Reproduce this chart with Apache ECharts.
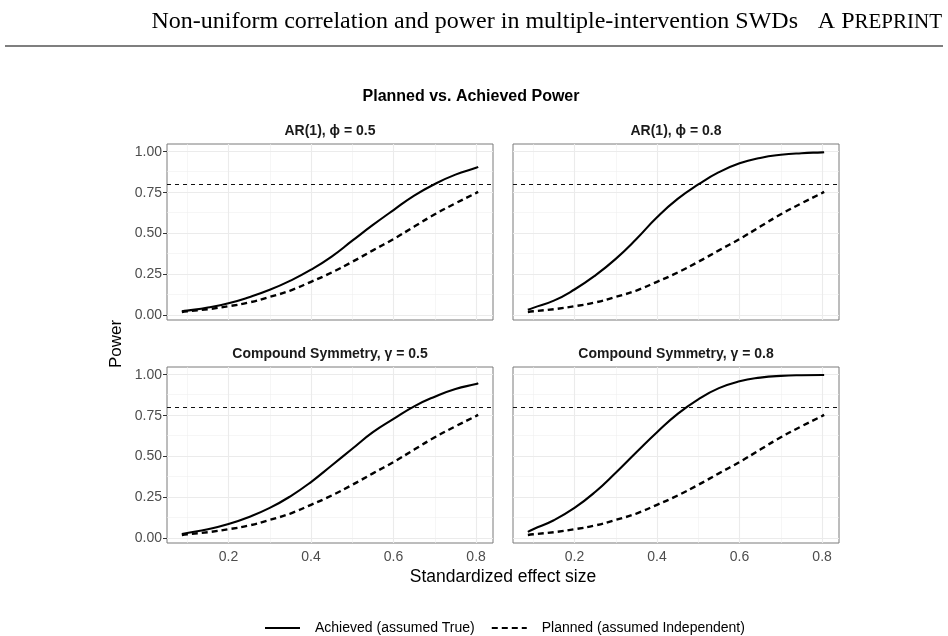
<!DOCTYPE html>
<html><head><meta charset="utf-8">
<script src="https://cdn.jsdelivr.net/npm/echarts@6/dist/echarts.min.js"></script>
<style>html,body{margin:0;padding:0;background:#fff}#c{width:948px;height:636px}</style>
</head><body><div id="c"></div><script>
// ---- data ----
const effectSize = [0.087,0.1,0.15,0.2,0.25,0.3,0.35,0.4,0.45,0.5,0.55,0.6,0.65,0.7,0.75,0.8,0.805];
const planned     = [0.022,0.026,0.039,0.057,0.080,0.114,0.153,0.206,0.263,0.328,0.398,0.467,0.543,0.618,0.685,0.748,0.755];
const achievedAR05 = [0.026,0.030,0.049,0.075,0.112,0.157,0.213,0.280,0.360,0.457,0.553,0.644,0.732,0.803,0.860,0.902,0.908];
const achievedAR08 = [0.035,0.047,0.091,0.159,0.244,0.346,0.467,0.600,0.712,0.800,0.875,0.929,0.962,0.981,0.991,0.996,0.997];
const achievedCS05 = [0.028,0.034,0.057,0.089,0.132,0.187,0.258,0.345,0.446,0.548,0.649,0.730,0.807,0.866,0.913,0.943,0.949];
const achievedCS08 = [0.041,0.057,0.112,0.187,0.284,0.402,0.527,0.649,0.761,0.850,0.918,0.960,0.982,0.993,0.997,0.998,0.998];
const panelTitles = ['AR(1), \u03D5 = 0.5','AR(1), \u03D5 = 0.8','Compound Symmetry, \u03B3 = 0.5','Compound Symmetry, \u03B3 = 0.8'];
const achievedByPanel = [achievedAR05, achievedAR08, achievedCS05, achievedCS08];
const xTicks = [0.2,0.4,0.6,0.8];
const xMinor = [0.1,0.3,0.5,0.7];
const yTicks = [0,0.25,0.5,0.75,1];
const yMinor = [0.125,0.375,0.625,0.875];
const targetPower = 0.8;
const nameAchieved = 'Achieved (assumed True)';
const namePlanned = 'Planned (assumed Independent)';

// ---- layout ----
const FONT = '"Liberation Sans", Arial, Helvetica, sans-serif';
const SERIF = '"Liberation Serif", "Times New Roman", serif';
const grids = [
  {left:167, top:144, width:326, height:176},
  {left:513, top:144, width:326, height:176},
  {left:167, top:367, width:326, height:176},
  {left:513, top:367, width:326, height:176}
];
const pairs = v => v.map((y,i)=>[effectSize[i], y]);

const xAxes = [], yAxes = [], series = [], graphics = [];
grids.forEach((g,i)=>{
  const bottomRow = i >= 2, leftCol = i % 2 === 0;
  xAxes.push({type:'value', gridIndex:i, min:0.051, max:0.841,
    axisLine:{show:false}, splitLine:{show:false},
    axisTick:{show:bottomRow, customValues:xTicks, length:4, lineStyle:{color:'#333', width:1}},
    axisLabel:{show:bottomRow, customValues:xTicks, formatter:v=>(+v).toFixed(1), color:'#4d4d4d', fontSize:14, fontFamily:FONT, margin:7}
  });
  yAxes.push({type:'value', gridIndex:i, min:-0.027, max:1.047,
    axisLine:{show:false}, splitLine:{show:false},
    axisTick:{show:leftCol, customValues:yTicks, length:4, lineStyle:{color:'#333', width:1}},
    axisLabel:{show:leftCol, customValues:yTicks, formatter:v=>(+v).toFixed(2), color:'#4d4d4d', fontSize:14, fontFamily:FONT, margin:5}
  });
  const gl = [];
  xMinor.forEach(v=>gl.push({xAxis:v, lineStyle:{color:'#f0f0f0', width:0.6, type:'solid'}}));
  yMinor.forEach(v=>gl.push({yAxis:v, lineStyle:{color:'#f0f0f0', width:0.6, type:'solid'}}));
  xTicks.forEach(v=>gl.push({xAxis:v, lineStyle:{color:'#ebebeb', width:1.1, type:'solid'}}));
  yTicks.forEach(v=>gl.push({yAxis:v, lineStyle:{color:'#ebebeb', width:1.1, type:'solid'}}));
  series.push({name:'bg'+i, type:'line', xAxisIndex:i, yAxisIndex:i, data:[], silent:true, z:1,
    markLine:{silent:true, symbol:['none','none'], label:{show:false}, animation:false, data:gl}});
  series.push({name:'ref'+i, type:'line', xAxisIndex:i, yAxisIndex:i, data:[], silent:true, z:3,
    markLine:{silent:true, symbol:['none','none'], label:{show:false}, animation:false,
      data:[{yAxis:targetPower, lineStyle:{color:'#111', width:1, type:[4,4]}}]}});
  series.push({name:nameAchieved, type:'line', xAxisIndex:i, yAxisIndex:i, data:pairs(achievedByPanel[i]),
    symbol:'none', smooth:0.5, z:5, animation:false,
    lineStyle:{color:'#000', width:2.1, type:'solid'}, itemStyle:{color:'#000'}});
  series.push({name:namePlanned, type:'line', xAxisIndex:i, yAxisIndex:i, data:pairs(planned),
    symbol:'none', smooth:0.5, z:5, animation:false,
    lineStyle:{color:'#000', width:2.4, type:[6,4]}, itemStyle:{color:'#000'}});
  graphics.push({type:'text', x:g.left+g.width/2, y:g.top-12.5,
    style:{text:panelTitles[i], font:'bold 14px '+FONT, fill:'#1a1a1a', align:'center', verticalAlign:'middle'}});
});

graphics.push({type:'text', x:798, y:22,
  style:{text:'Non-uniform correlation and power in multiple-intervention SWDs', font:'24px '+SERIF, fill:'#000', align:'right', verticalAlign:'middle'}});
graphics.push({type:'text', x:942, y:22,
  style:{text:'{a|A P}{b|REPRINT}', align:'right', verticalAlign:'middle', fill:'#000',
    rich:{a:{font:'24px '+SERIF, fill:'#000'}, b:{font:'21px '+SERIF, fill:'#000'}}}});
graphics.push({type:'line', shape:{x1:5, y1:46, x2:943, y2:46}, style:{stroke:'#000', lineWidth:1.2}});
graphics.push({type:'text', x:471, y:97,
  style:{text:'Planned vs. Achieved Power', font:'bold 16px '+FONT, fill:'#000', align:'center', verticalAlign:'middle'}});
graphics.push({type:'text', x:116, y:344, rotation:Math.PI/2,
  style:{text:'Power', font:'17px '+FONT, fill:'#000', align:'center', verticalAlign:'middle'}});
graphics.push({type:'text', x:503, y:577,
  style:{text:'Standardized effect size', font:'17.5px '+FONT, fill:'#000', align:'center', verticalAlign:'middle'}});

const chart = echarts.init(document.getElementById('c'), null, {renderer:'canvas'});
chart.setOption({
  backgroundColor:'#fff',
  animation:false,
  grid: grids.map(g=>Object.assign({show:true, borderColor:'#7a7a7a', borderWidth:1, backgroundColor:'transparent', containLabel:false}, g)),
  xAxis:xAxes, yAxis:yAxes, series:series,
  legend:{data:[nameAchieved, namePlanned], left:259, top:616, itemWidth:35, itemHeight:14, itemGap:16,
    itemStyle:{opacity:0, borderWidth:0},
    textStyle:{fontSize:14, fontFamily:FONT, color:'#000', padding:[0,0,0,10]}},
  graphic:graphics
});
</script></body></html>
